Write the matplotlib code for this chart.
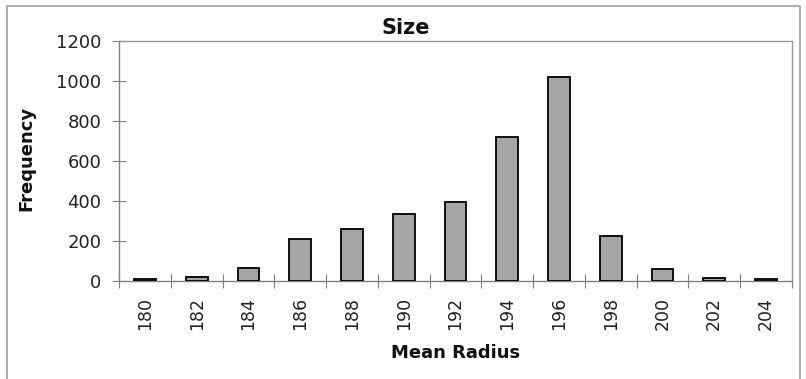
import matplotlib
matplotlib.use("Agg")
import matplotlib.pyplot as plt
from matplotlib.patches import Rectangle
from matplotlib.ticker import FixedLocator, NullFormatter
import numpy as np

# Histogram of mean radius
radius_bins = ["180", "182", "184", "186", "188", "190", "192",
               "194", "196", "198", "200", "202", "204"]
frequency = [7, 20, 65, 207, 258, 332, 391, 718, 1020, 223, 58, 13, 8]
y_ticks = [0, 200, 400, 600, 800, 1000, 1200]

plt.rcParams["font.family"] = "DejaVu Sans"

W, H = 806, 379
fig = plt.figure(figsize=(W / 100, H / 100), dpi=100)
ax = fig.add_axes([119.3 / W, 1 - 280.5 / H, (791.7 - 119.3) / W, (280.5 - 40.5) / H])

x = np.arange(len(radius_bins))
ax.bar(x, frequency, width=0.42, color="#a6a6a6", edgecolor="black",
       linewidth=1.3, zorder=3)

ax.set_xlim(-0.5, len(radius_bins) - 0.5)
ax.set_ylim(0, 1200)

# y axis
ax.set_yticks(y_ticks)
ax.tick_params(axis="y", direction="inout", length=10, width=0.8,
               color="#808080", labelsize=13, pad=8, labelcolor="#222222")

# x axis: labels at bar centres, tick marks between categories
ax.set_xticks(x)
ax.set_xticklabels(radius_bins, rotation=90)
ax.tick_params(axis="x", which="major", length=0, labelsize=12.5, pad=12,
               labelcolor="#222222")
ax.xaxis.set_minor_locator(FixedLocator(np.arange(-0.5, len(radius_bins), 1.0)))
ax.xaxis.set_minor_formatter(NullFormatter())
ax.tick_params(axis="x", which="minor", direction="inout", length=10,
               width=0.8, color="#808080")

for side in ("left", "bottom"):
    ax.spines[side].set_color("#808080")
    ax.spines[side].set_linewidth(1.0)
for side in ("top", "right"):
    ax.spines[side].set_color("#9a9a9a")
    ax.spines[side].set_linewidth(1.0)

# axis titles
fig.text(31.7 / W, 1 - 158.3 / H, "Frequency", fontsize=13, fontweight="bold",
         rotation=90, rotation_mode="anchor", ha="center", va="baseline",
         color="#111111")
fig.text(455.5 / W, 1 - 358 / H, "Mean Radius", fontsize=13,
         fontweight="bold", ha="center", va="baseline", color="#111111")

fig.text(406 / W, 1 - 34.3 / H, "Size", fontsize=15, fontweight="bold",
         ha="center", va="baseline", color="#111111")

# chart area border (runs past the bottom edge)
fig.add_artist(Rectangle((7 / W, -0.05), (800 - 7) / W, 1.05 - 6 / H,
                         transform=fig.transFigure, fill=False,
                         edgecolor="#a0a0a0", linewidth=1.2))

fig.savefig("out.png", dpi=100)
